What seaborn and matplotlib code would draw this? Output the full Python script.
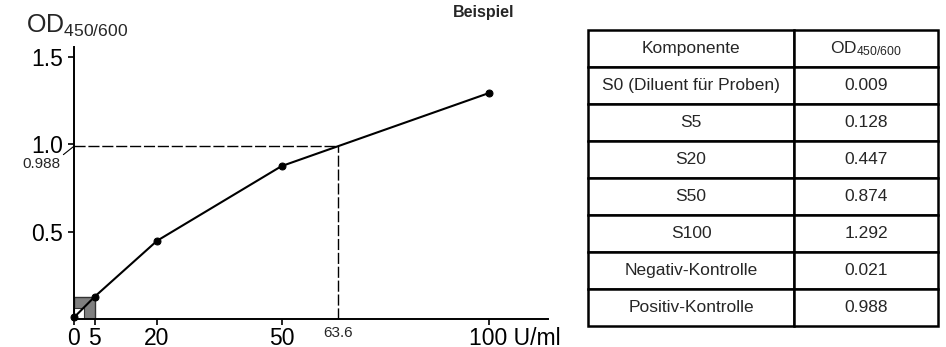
import matplotlib
matplotlib.use("Agg")
import matplotlib.pyplot as plt
import matplotlib.transforms as mtransforms
from matplotlib.patches import Rectangle
import pandas as pd
import seaborn as sns

# Standard curve data (U/ml vs OD450/600)
concentrations = [0, 5, 20, 50, 100]
od_values = [0.009, 0.128, 0.447, 0.874, 1.292]
x_tick_labels = ["0", "5", "20", "50", "100 U/ml"]
y_ticks = [0.5, 1.0, 1.5]

# Example sample
sample_od = 0.988
sample_conc = 63.6

# Table contents
components = ["S0 (Diluent für Proben)", "S5", "S20", "S50", "S100",
              "Negativ-Kontrolle", "Positiv-Kontrolle"]
component_od = ["0.009", "0.128", "0.447", "0.874", "1.292", "0.021", "0.988"]

sns.set_theme(style="white")
plt.rcParams["font.family"] = ["Liberation Sans", "DejaVu Sans"]
plt.rcParams["mathtext.default"] = "regular"

df = pd.DataFrame({"conc": concentrations, "od": od_values})

fig = plt.figure(figsize=(9.46, 3.47), dpi=100)
ax = fig.add_axes([74 / 946, 1 - 319 / 347, (548 - 74) / 946, (319 - 47) / 347])

# grey box marking the lowest standard range
ax.add_patch(Rectangle((0, 0), concentrations[1], od_values[1],
                       facecolor="#7f7f7f", edgecolor="#333333", lw=1, zorder=1))
ax.add_patch(Rectangle((0, 0), concentrations[1] / 2, od_values[1] / 2,
                       facecolor="white", edgecolor="#333333", lw=0.8, zorder=1))

sns.lineplot(data=df, x="conc", y="od", ax=ax, color="black", lw=1.5,
             marker="o", markersize=5, markeredgecolor="black", zorder=3,
             clip_on=False)

# dashed read-off lines
dash = (0, (8, 2))
ax.plot([0, sample_conc], [sample_od, sample_od], color="black", lw=1, ls=dash, zorder=2)
ax.plot([sample_conc, sample_conc], [0, sample_od], color="black", lw=1, ls=dash, zorder=2)

ax.set_xlim(0, 114.2)
ax.set_ylim(0, 1.555)
ax.set_xticks(concentrations)
ax.set_xticklabels(x_tick_labels, fontsize=16.5)
ax.set_yticks(y_ticks)
ax.set_yticklabels(["0.5", "1.0", "1.5"], fontsize=16.5)
ax.set_xlabel("")
ax.set_ylabel("")
ax.tick_params(axis="both", direction="out", length=4, width=1.2,
               colors="black", bottom=True, left=True)
ax.tick_params(axis="y", pad=4)
ax.tick_params(axis="x", pad=2)

# shift the "100 U/ml" label so that the number sits on its tick
offset = mtransforms.ScaledTranslation(0.257, 0, fig.dpi_scale_trans)
lab = ax.get_xticklabels()[-1]
lab.set_transform(lab.get_transform() + offset)

for side in ["top", "right"]:
    ax.spines[side].set_visible(False)
for side in ["left", "bottom"]:
    ax.spines[side].set_color("black")
    ax.spines[side].set_linewidth(1.4)

ax.annotate(f"{sample_od:.3f}", xy=(0, sample_od), xytext=(-10, -13),
            textcoords="offset points", ha="right", va="center", fontsize=11,
            annotation_clip=False,
            arrowprops=dict(arrowstyle="-", lw=0.8, color="black",
                            shrinkA=0, shrinkB=0, relpos=(1, 1)))
ax.annotate(f"{sample_conc}", xy=(sample_conc, 0), xytext=(0, -5),
            textcoords="offset points", ha="center", va="top", fontsize=11,
            annotation_clip=False)

fig.text(26 / 946, 1 - 33 / 347, r"OD$_{450/600}$", ha="left", va="baseline", fontsize=18)
fig.text(484 / 946, 1 - 12 / 347, "Beispiel", ha="center", va="center",
         fontweight="bold", fontsize=11.5)

# table on the right
tax = fig.add_axes([588 / 946, 1 - 326 / 347, 350 / 946, 296 / 347])
tax.axis("off")
tbl = tax.table(cellText=[[c, v] for c, v in zip(components, component_od)],
                colLabels=["Komponente", r"OD$_{450/600}$"],
                colWidths=[0.589, 0.411], cellLoc="center", bbox=[0, 0, 1, 1])
tbl.auto_set_font_size(False)
tbl.set_fontsize(12.5)
for cell in tbl.get_celld().values():
    cell.set_linewidth(1.8)
    cell.set_edgecolor("black")

fig.savefig("out.png", dpi=100)
